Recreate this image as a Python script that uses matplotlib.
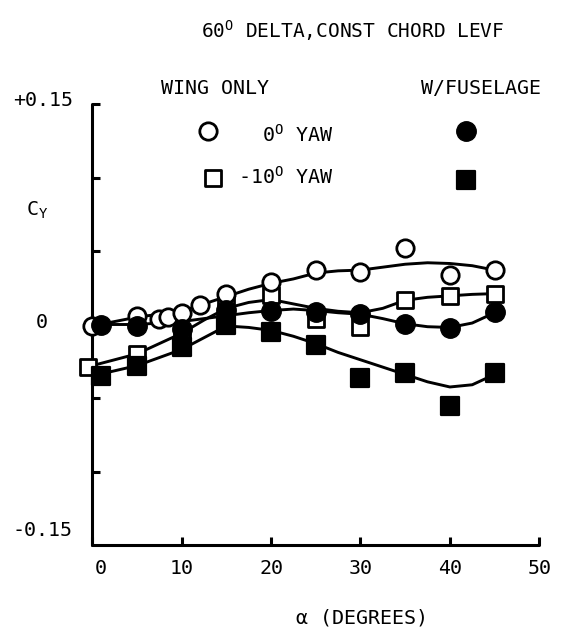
import matplotlib
matplotlib.use('Agg')
import matplotlib.pyplot as plt
import matplotlib.transforms as mtransforms
from matplotlib.lines import Line2D
from matplotlib.markers import MarkerStyle

plt.rcParams['font.family'] = ['DejaVu Sans Mono']
plt.rcParams['mathtext.fontset'] = 'custom'
plt.rcParams['mathtext.rm'] = 'DejaVu Sans Mono'
plt.rcParams['mathtext.it'] = 'DejaVu Sans Mono'
plt.rcParams['mathtext.bf'] = 'DejaVu Sans Mono'
plt.rcParams['font.size'] = 14.4

# ---------------- data ----------------
# Wing only, 0 deg yaw (open circles)
alpha_wing_0 = [0, 5, 7.5, 8.5, 10, 12, 15, 20, 25, 30, 35, 40, 45]
cy_wing_0 = [-0.001, 0.006, 0.004, 0.005, 0.008, 0.013, 0.021, 0.029, 0.037, 0.036, 0.052, 0.034, 0.037]

# Wing only, -10 deg yaw (open squares)
alpha_wing_10 = [-0.5, 5, 10, 15, 20, 25, 30, 35, 40, 45]
cy_wing_10 = [-0.029, -0.020, -0.009, 0.014, 0.020, 0.004, -0.002, 0.017, 0.0196, 0.021]

# With fuselage, 0 deg yaw (filled circles)
alpha_fus_0 = [1, 5, 10, 15, 20, 25, 30, 35, 40, 45]
cy_fus_0 = [0.000, -0.001, -0.003, 0.010, 0.0094, 0.0083, 0.0071, 0.0003, -0.0024, 0.0083]

# With fuselage, -10 deg yaw (filled squares)
alpha_fus_10 = [1, 5, 10, 15, 20, 25, 30, 35, 40, 45]
cy_fus_10 = [-0.035, -0.028, -0.0155, 0.000, -0.0053, -0.014, -0.0366, -0.033, -0.0552, -0.033]

# Faired curves
alpha_fair = [0, 5, 10, 12.5, 15, 17.5, 20, 22.5, 25, 27.5, 30, 32.5, 35, 37.5, 40, 42.5, 45]
fair_wing_0 = [-0.001, 0.005, 0.009, 0.014, 0.019, 0.024, 0.028, 0.031, 0.035, 0.0365, 0.037, 0.039, 0.041, 0.042, 0.0415, 0.040, 0.037]
fair_wing_10 = [-0.028, -0.020, -0.006, 0.003, 0.011, 0.015, 0.017, 0.014, 0.011, 0.009, 0.008, 0.011, 0.0165, 0.0185, 0.0195, 0.0205, 0.021]
fair_fus_0 = [0.000, 0.000, 0.002, 0.004, 0.006, 0.008, 0.0095, 0.0105, 0.0095, 0.008, 0.007, 0.004, 0.0005, -0.0015, -0.002, 0.001, 0.008]
fair_fus_10 = [-0.035, -0.028, -0.017, -0.009, -0.001, -0.002, -0.004, -0.008, -0.013, -0.019, -0.024, -0.029, -0.034, -0.039, -0.0425, -0.041, -0.034]

x_ticks = [0, 10, 20, 30, 40, 50]
x_tick_labels = ['0', '10', '20', '30', '40', '50']
y_ticks = [-0.10, -0.05, 0.0, 0.05, 0.10, 0.15]

title = '60$^\\mathrm{O}$ DELTA,CONST CHORD LEVF'
xlabel = '\u03b1 (DEGREES)'

# ---------------- figure ----------------
W, H = 561, 635
fig = plt.figure(figsize=(W / 100, H / 100), dpi=100)


def fx(px):
    return px / W


def fy(py):
    return 1 - py / H


ax = fig.add_axes([fx(92.2), fy(545), (539.3 - 92.2) / W, (545 - 104) / H])
ax.set_xlim(0, 50)
ax.set_ylim(-0.15, 0.15)
for s in ['top', 'right']:
    ax.spines[s].set_visible(False)
for s in ['left', 'bottom']:
    ax.spines[s].set_linewidth(2.2)
    ax.spines[s].set_capstyle('round')

ax.set_xticks(x_ticks)
ax.set_xticklabels(x_tick_labels)
ax.set_yticks(y_ticks)
ax.set_yticklabels([''] * len(y_ticks))
ax.tick_params(axis='both', direction='in', length=6, width=2.2, color='black')
ax.tick_params(axis='x', pad=10, labelsize=14.4)
# shift the "0" label slightly right as in the reference
lab0 = ax.get_xticklabels()[0]
lab0.set_transform(lab0.get_transform() + mtransforms.ScaledTranslation(0.09, 0, fig.dpi_scale_trans))

lw = 2.1
for curve in (fair_wing_0, fair_wing_10, fair_fus_0, fair_fus_10):
    ax.plot(alpha_fair, curve, color='black', lw=lw, zorder=2, solid_capstyle='round', solid_joinstyle='round')

sq = MarkerStyle('s', joinstyle='round')
OPEN_C = dict(ls='none', marker='o', ms=12.5, mfc='white', mec='black', mew=2.0)
OPEN_S = dict(ls='none', marker=sq, ms=11.8, mfc='white', mec='black', mew=2.0)
FILL_C = dict(ls='none', marker='o', ms=14, mfc='black', mec='black', mew=1.0)
FILL_S = dict(ls='none', marker=sq, ms=12.8, mfc='black', mec='black', mew=1.6)

ax.plot(alpha_wing_0, cy_wing_0, zorder=4, clip_on=False, **OPEN_C)
ax.plot(alpha_wing_10, cy_wing_10, zorder=3, clip_on=False, **OPEN_S)
ax.plot(alpha_fus_0, cy_fus_0, zorder=5, clip_on=False, **FILL_C)
ax.plot(alpha_fus_10, cy_fus_10, zorder=5, clip_on=False, **FILL_S)

# y labels
fig.text(fx(73), fy(100), '+0.15', ha='right', va='center')
fig.text(fx(42), fy(322), '0', ha='center', va='center')
fig.text(fx(73), fy(530), '-0.15', ha='right', va='center')
fig.text(fx(37), fy(210), 'C$_\\mathrm{Y}$', ha='center', va='center')

# title and x label
fig.text(fx(353), fy(38), title, ha='center', va='baseline', fontsize=14)
fig.text(fx(362), fy(618), xlabel, ha='center', va='center')

# legend block
fig.text(fx(215), fy(88), 'WING ONLY', ha='center', va='center')
fig.text(fx(481), fy(88), 'W/FUSELAGE', ha='center', va='center')
fig.text(fx(333), fy(142), '0$^\\mathrm{O}$ YAW', ha='right', va='baseline')
fig.text(fx(333), fy(184), '-10$^\\mathrm{O}$ YAW', ha='right', va='baseline')
fig.add_artist(Line2D([fx(208)], [fy(131)], transform=fig.transFigure, **OPEN_C))
fig.add_artist(Line2D([fx(213)], [fy(178)], transform=fig.transFigure, **OPEN_S))
fig.add_artist(Line2D([fx(466)], [fy(131)], transform=fig.transFigure, **FILL_C))
fig.add_artist(Line2D([fx(466)], [fy(180)], transform=fig.transFigure, **FILL_S))

fig.savefig('out.png', dpi=100)
